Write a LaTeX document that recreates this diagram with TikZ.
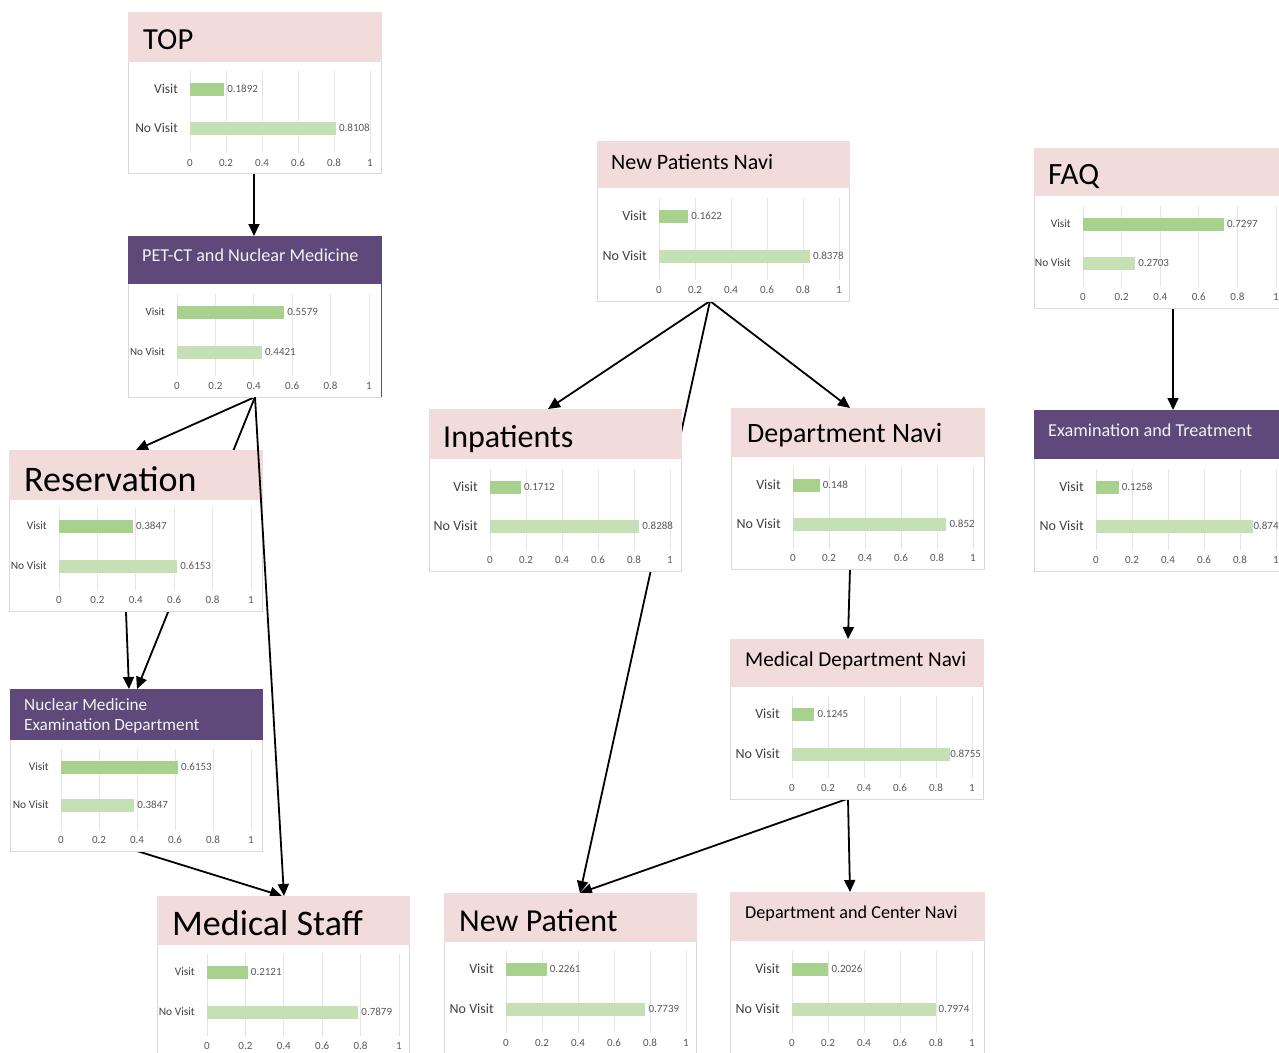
\documentclass[tikz,border=0pt]{standalone}
\usepackage{fontspec}
\setmainfont{Carlito}
\usetikzlibrary{arrows.meta,calc}
\pgfdeclarelayer{background}
\pgfsetlayers{background,main}
\definecolor{hdrpink}{HTML}{F2DCDB}
\definecolor{hdrpurple}{HTML}{5F497A}
\definecolor{barv}{HTML}{A9D18E}
\definecolor{barn}{HTML}{C5E0B4}
\definecolor{gridc}{HTML}{E4E4E4}
\definecolor{boxedge}{HTML}{D9D9D9}
\definecolor{lblc}{HTML}{404040}
\definecolor{tickc}{HTML}{595959}
\definecolor{whitetxt}{HTML}{F2F2F2}
\def\valgapn{3pt}
\tikzset{
  card/.style={draw=boxedge, line width=0.8pt, fill=white, anchor=north west, inner sep=0pt, outer sep=0pt},
  gridl/.style={draw=gridc, line width=0.8pt},
  ticklbl/.style={text=tickc, font=\fontsize{11}{11}\selectfont, inner sep=0pt, anchor=center},
  vallbl/.style={text=tickc, font=\fontsize{11}{11}\selectfont, inner sep=0pt, anchor=west},
  catlbl/.style={text=lblc, inner sep=0pt, anchor=east},
  ttlk/.style={text=black, inner sep=0pt, anchor=base west},
  ttlw/.style={text=whitetxt, inner sep=0pt, anchor=base west},
  conn/.style={draw=black, line width=1.8pt, -{Triangle[length=12pt,width=11pt]}},
}
% #1 name, #2 x0, #3 width, #4 y visit, #5 y no visit, #6 y ticks, #7 visit, #8 no visit, #9 label size
\newcommand\chart[9]{%
  \foreach \k/\tk in {0/0,1/0.2,2/0.4,3/0.6,4/0.8,5/1}{
    \draw[gridl] ({#2+#3*\k/5},{#4-18}) -- ({#2+#3*\k/5},{#6-10});
    \node[ticklbl] (#1-t\k) at ({#2+#3*\k/5},#6) {\tk};
  }
  \fill[barv] (#2,{#4-6.5}) rectangle ({#2+#3*#7},{#4+6.5});
  \fill[barn] (#2,{#5-6.5}) rectangle ({#2+#3*#8},{#5+6.5});
  \node[vallbl, xshift=3pt] (#1-vv) at ({#2+#3*#7},#4) {#7};
  \node[vallbl, xshift=\valgapn] (#1-vn) at ({#2+#3*#8},#5) {#8};
  \node[catlbl, font=\fontsize{#9}{#9}\selectfont] (#1-cv) at ({#2-12},#4) {Visit};
  \node[catlbl, font=\fontsize{#9}{#9}\selectfont] (#1-cn) at ({#2-12},#5) {No Visit};
}
\newcommand\hdr[3]{\fill[#3] ($(#1.north west)+(-0.5,-0.5)$) rectangle ($(#1.north east)+(0.5,#2)$);}
\begin{document}
\begin{tikzpicture}[x=1pt,y=-1pt]
\useasboundingbox (0,0) rectangle (1279,1052);
\begin{pgfonlayer}{background}
\fill[white] (0,0) rectangle (1279,1052);
\end{pgfonlayer}

% TOP
\node[card, minimum width=253, minimum height=161] (top) at (128,12) {};
\hdr{top}{50}{hdrpink}
\node[ttlk, font=\fontsize{30.6}{34}\selectfont] (top-title) at (143,49) {TOP};
\chart{top}{190}{180}{89}{128}{163}{0.1892}{0.8108}{13.5}

% PET-CT
\node[card, minimum width=253, minimum height=161] (pet) at (128,236) {};
\hdr{pet}{48}{hdrpurple}
\draw[hdrpurple, line width=1pt] (pet.north east) -- (pet.south east);
\node[ttlw, font=\fontsize{18.2}{20}\selectfont] (pet-title) at (142,261) {PET-CT and Nuclear Medicine};
\chart{pet}{177}{192}{312}{352}{386}{0.5579}{0.4421}{11}

% Reservation
\node[card, minimum width=253, minimum height=161] (res) at (9,450) {};
\hdr{res}{50}{hdrpink}
\node[ttlk, font=\fontsize{36}{40}\selectfont] (res-title) at (24,491) {Reservation};
\chart{res}{59}{192}{526}{566}{600}{0.3847}{0.6153}{11.4}

% Nuclear Medicine Examination Department
\node[card, minimum width=252, minimum height=162] (nuc) at (10,689) {};
\hdr{nuc}{51}{hdrpurple}
\node[ttlw, font=\fontsize{17.2}{20}\selectfont] (nuc-title1) at (24,710.5) {Nuclear Medicine};
\node[ttlw, font=\fontsize{17.2}{20}\selectfont] (nuc-title2) at (24,730.5) {Examination Department};
\chart{nuc}{61}{190}{767}{805}{840}{0.6153}{0.3847}{11.4}

% Medical Staff
\node[card, minimum width=252, minimum height=162] (ms) at (157,896) {};
\hdr{ms}{49}{hdrpink}
\node[ttlk, font=\fontsize{36}{40}\selectfont] (ms-title) at (172,935) {Medical Staff};
\chart{ms}{207}{192}{972}{1012}{1046}{0.2121}{0.7879}{11.4}

% New Patients Navi
\node[card, minimum width=252, minimum height=160] (npn) at (597,141) {};
\hdr{npn}{47}{hdrpink}
\node[ttlk, font=\fontsize{22}{24}\selectfont] (npn-title) at (611,169) {New Patients Navi};
\chart{npn}{659}{180}{216}{256}{290}{0.1622}{0.8378}{14}

% Inpatients
\node[card, minimum width=252, minimum height=162] (inp) at (429,409) {};
\hdr{inp}{50}{hdrpink}
\node[ttlk, font=\fontsize{32}{36}\selectfont] (inp-title) at (443,447) {Inpatients};
\chart{inp}{490}{180}{487}{526}{560}{0.1712}{0.8288}{14}

% Department Navi
\node[card, minimum width=253, minimum height=161] (dn) at (731,408) {};
\hdr{dn}{49}{hdrpink}
\node[ttlk, font=\fontsize{28}{32}\selectfont] (dn-title) at (747,442) {Department Navi};
\chart{dn}{793}{180}{485}{524}{558}{0.148}{0.852}{14}

% Medical Department Navi
\node[card, minimum width=253, minimum height=160] (mdn) at (730,639) {};
\hdr{mdn}{48}{hdrpink}
\node[ttlk, font=\fontsize{21.2}{24}\selectfont] (mdn-title) at (745,666) {Medical Department Navi};
\def\valgapn{0.5pt}
\chart{mdn}{792}{180}{714}{754}{788}{0.1245}{0.8755}{14}
\def\valgapn{3pt}

% New Patient
\node[card, minimum width=252, minimum height=162] (np) at (444,893) {};
\hdr{np}{49}{hdrpink}
\node[ttlk, font=\fontsize{32}{36}\selectfont] (np-title) at (459,931) {New Patient};
\chart{np}{506}{180}{969}{1009}{1043}{0.2261}{0.7739}{14}

% Department and Center Navi
\node[card, minimum width=254, minimum height=162] (dcn) at (730,892) {};
\hdr{dcn}{49}{hdrpink}
\node[ttlk, font=\fontsize{18.2}{20}\selectfont] (dcn-title) at (745,918) {Department and Center Navi};
\chart{dcn}{792}{180}{969}{1009}{1043}{0.2026}{0.7974}{14}

% FAQ
\node[card, minimum width=252, minimum height=160] (faq) at (1034,148) {};
\hdr{faq}{48}{hdrpink}
\node[ttlk, font=\fontsize{31}{34}\selectfont] (faq-title) at (1048,184) {FAQ};
\chart{faq}{1083}{193}{224}{263}{297}{0.7297}{0.2703}{11.4}

% Examination and Treatment
\node[card, minimum width=252, minimum height=161] (ext) at (1034,410) {};
\hdr{ext}{49}{hdrpurple}
\node[ttlw, font=\fontsize{18.2}{20}\selectfont] (ext-title) at (1048,436) {Examination and Treatment};
\def\valgapn{0pt}
\chart{ext}{1096}{180}{487}{526}{560}{0.1258}{0.874}{14}
\def\valgapn{3pt}

% connectors (behind the cards)
\begin{pgfonlayer}{background}
\draw[conn] ($(top.south west)+(126,0)$) -- ($(pet.north west)+(126,0)$);
\draw[conn] ($(pet.south west)+(127,0)$) -- ($(res.north west)+(127,0)$);
\draw[conn] ($(pet.south west)+(127,0)$) -- ($(nuc.north west)+(127,0)$);
\draw[conn] ($(res.south west)+(117,1)$) -- ($(nuc.north west)+(119,0)$);
\draw[conn] ($(nuc.south west)+(127,0)$) -- ($(ms.north west)+(125,0)$);
\draw[conn] ($(npn.south west)+(113,0)$) -- ($(inp.north west)+(119,0)$);
\draw[conn] ($(npn.south west)+(113,0)$) -- ($(np.north west)+(136,0)$);
\draw[conn] ($(npn.south west)+(113,0)$) -- ($(dn.north west)+(119,0)$);
\draw[conn] ($(dn.south west)+(119,0)$) -- ($(mdn.north west)+(118,0)$);
\draw[conn] ($(mdn.south west)+(117,0)$) -- ($(np.north west)+(136,0)$);
\draw[conn] ($(mdn.south west)+(118,0)$) -- ($(dcn.north west)+(120,0)$);
\draw[conn] ($(faq.south west)+(139,0)$) -- ($(ext.north west)+(139,0)$);
\end{pgfonlayer}
\draw[conn] ($(pet.south west)+(127,0)$) -- ($(ms.north west)+(127,0)$);
\end{tikzpicture}
\end{document}
